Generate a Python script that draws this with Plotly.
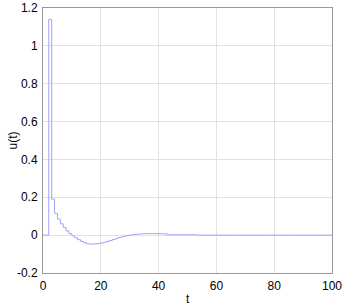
import plotly.graph_objects as go

t = list(range(0, 101))
u_head = [0, 0, 1.14, 0.19, 0.115, 0.085, 0.06, 0.04, 0.022, 0.008,
          -0.004, -0.014, -0.024, -0.033, -0.040, -0.045, -0.047, -0.047, -0.046, -0.044,
          -0.041, -0.037, -0.033, -0.028, -0.023, -0.018, -0.013, -0.009, -0.005, -0.002,
          0.001, 0.003, 0.005, 0.006, 0.007, 0.008, 0.008, 0.008, 0.008, 0.008,
          0.008, 0.007, 0.007, 0.002, 0.002, 0.002, 0.002, 0.002, 0.002, 0.002,
          0.002, 0.002, 0.002]
u = u_head + [0.0] * (len(t) - len(u_head))

x_ticks = [0, 20, 40, 60, 80, 100]
y_ticks = [-0.2, 0, 0.2, 0.4, 0.6, 0.8, 1, 1.2]
y_labels = ["-0.2", "0", "0.2", "0.4", "0.6", "0.8", "1", "1.2"]

fig = go.Figure()
fig.add_trace(go.Scatter(x=t, y=u, mode="lines", line=dict(color="#a0a0ff", width=1, shape="hv"),
                         showlegend=False))

font = dict(family="Liberation Sans, Arial, sans-serif", size=12, color="#000")
fig.update_layout(
    width=346, height=307,
    margin=dict(l=43, r=14, t=8, b=34),
    paper_bgcolor="white", plot_bgcolor="white",
    font=font,
    xaxis=dict(range=[0, 100], tickvals=x_ticks, ticktext=[str(v) for v in x_ticks],
               showgrid=True, gridcolor="#e2e2e2", gridwidth=1, automargin=False,
               showline=True, linecolor="#999", linewidth=1, mirror=True,
               zeroline=False, ticks="outside", ticklen=2, tickcolor="rgba(0,0,0,0)"),
    yaxis=dict(range=[-0.2, 1.2], tickvals=y_ticks, ticktext=y_labels,
               showgrid=True, gridcolor="#e2e2e2", gridwidth=1, automargin=False,
               showline=True, linecolor="#999", linewidth=1, mirror=True,
               zeroline=False, ticks="outside", ticklen=2, tickcolor="rgba(0,0,0,0)"),
    annotations=[
        dict(text="t", xref="paper", yref="paper", x=0.5, y=0, yshift=-26,
             xanchor="center", yanchor="middle", showarrow=False, font=font),
        dict(text="u(t)", xref="paper", yref="paper", x=0, y=0.5, xshift=-31,
             xanchor="center", yanchor="middle", textangle=-90, showarrow=False, font=font),
    ],
)
fig.write_html("out.html", config={"displayModeBar": False},
               post_script="document.body.style.margin='0';")
